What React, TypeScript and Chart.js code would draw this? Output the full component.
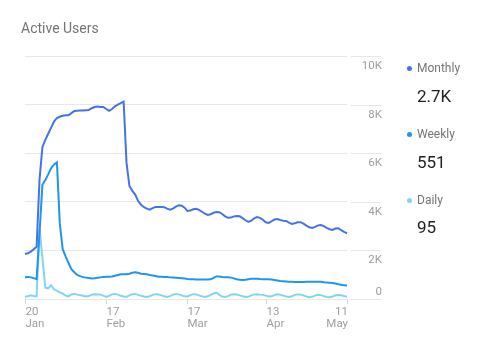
import React, { useEffect, useRef } from 'react';
import { Chart, registerables } from 'chart.js';

Chart.register(...registerables);

const MONTH_NAMES = ['Jan', 'Feb', 'Mar', 'Apr', 'May', 'Jun', 'Jul', 'Aug', 'Sep', 'Oct', 'Nov', 'Dec'];

const MONTHLY = [
  1850, 1880, 1950, 2050, 2150, 4900, 6250, 6550, 6800, 7050,
  7300, 7450, 7500, 7540, 7560, 7560, 7650, 7740, 7750, 7760,
  7760, 7770, 7780, 7850, 7900, 7920, 7900, 7900, 7820, 7740,
  7820, 7930, 8000, 8060, 8120, 5600, 4650, 4450, 4300, 4030,
  3880, 3780, 3720, 3680, 3740, 3790, 3790, 3790, 3780, 3720,
  3680, 3720, 3800, 3860, 3840, 3760,
  3620, 3640, 3690, 3710, 3670, 3590, 3510, 3460, 3490, 3550,
  3580, 3570, 3500, 3400, 3340, 3350, 3400, 3420, 3410, 3330,
  3240, 3170, 3220, 3320, 3375, 3340, 3260, 3160, 3130, 3200,
  3270, 3290, 3250, 3220, 3210, 3140, 3090, 3120, 3160, 3160,
  3100, 3020, 2950, 2920, 2970, 3030, 3045, 3000, 2930, 2870,
  2840, 2900, 2910, 2830, 2760, 2700,
];

const WEEKLY = [
  900, 910, 890, 860, 820, 2700, 4700, 4900, 5130, 5380,
  5540, 5620, 3100, 2050, 1750, 1480, 1230, 1100, 990, 940,
  900, 880, 860, 840, 850, 870, 890, 910, 920, 920,
  930, 960, 990, 1020, 1020, 1020, 1040, 1080, 1100, 1080,
  1040, 1030, 1020, 990, 970, 950, 920, 915, 910, 905,
  890, 880, 870, 860, 850, 840,
  820, 815, 810, 800, 800, 800, 800, 800, 810, 870,
  930, 930, 910, 900, 895, 880, 850, 810, 790, 780,
  790, 810, 830, 835, 830, 820, 815, 810, 810, 800,
  780, 760, 740, 730, 720, 712, 705, 700, 700, 700,
  700, 705, 710, 712, 712, 710, 705, 690, 680, 670,
  655, 635, 610, 590, 570, 551,
];

const DAILY = [
  90, 110, 150, 120, 110, 2900, 1700, 470, 440, 560,
  400, 330, 270, 220, 140, 110, 190, 210, 180, 160,
  130, 100, 120, 180, 200, 190, 180, 140, 90, 130,
  190, 210, 180, 130, 100, 90, 150, 200, 210, 170,
  130, 100, 80, 110, 170, 200, 190, 150, 110, 80,
  120, 180, 210, 190, 150, 110,
  100, 160, 200, 190, 150, 110, 80, 110, 170, 230,
  260, 170, 100, 80, 120, 180, 200, 190, 150, 110,
  80, 90, 150, 190, 200, 180, 170, 140, 100, 110,
  160, 190, 180, 140, 100, 80, 110, 170, 190, 180,
  150, 100, 70, 90, 140, 170, 160, 120, 80, 70,
  100, 150, 160, 150, 120, 95,
];

const CATEGORIES = MONTHLY.map((_, i) => {
  const d = new Date(2019, 0, 20 + i);
  return `${MONTH_NAMES[d.getMonth()]} ${d.getDate()}`;
});

const Y_TICKS = [0, 2000, 4000, 6000, 8000, 10000];
const Y_TICK_LABELS = ['0', '2K', '4K', '6K', '8K', '10K'];
const X_TICK_DATES = ['Jan 20', 'Feb 17', 'Mar 17', 'Apr 13', 'May 11'];
const X_TICK_LABELS = [['20', 'Jan'], ['17', 'Feb'], ['17', 'Mar'], ['13', 'Apr'], ['11', 'May']];

const SERIES_NAMES = ['Monthly', 'Weekly', 'Daily'];
const SERIES_TOTALS = ['2.7K', '551', '95'];
const COLORS = ['#4473e8', '#1f95f2', '#80d5f3'];

const FONT = 'Roboto, "Noto Sans", sans-serif';

const axisPlugin = {
  id: 'customAxes',
  afterDraw(chart: any) {
    const ctx = chart.ctx;
    const xs = chart.scales.x;
    const ys = chart.scales.y;
    const area = chart.chartArea;
    ctx.save();
    ctx.font = `11.5px ${FONT}`;
    ctx.fillStyle = '#9e9e9e';
    ctx.strokeStyle = '#e6e6e6';
    ctx.lineWidth = 1;
    Y_TICKS.forEach((v, k) => {
      const py = Math.round(ys.getPixelForValue(v)) + 0.5;
      ctx.beginPath();
      ctx.moveTo(area.right + 4, py);
      ctx.lineTo(area.right + 34, py);
      ctx.stroke();
      ctx.textAlign = 'right';
      ctx.textBaseline = 'alphabetic';
      ctx.fillText(Y_TICK_LABELS[k], area.right + 35, v === 0 ? py - 4.5 : py + 12);
    });
    ctx.strokeStyle = '#d6d6d6';
    X_TICK_DATES.forEach((date, k) => {
      const idx = CATEGORIES.indexOf(date);
      if (idx < 0) return;
      const px = Math.round(xs.getPixelForValue(idx)) + 0.5;
      ctx.beginPath();
      ctx.moveTo(px, area.bottom);
      ctx.lineTo(px, area.bottom + 5);
      ctx.stroke();
      const last = k === X_TICK_DATES.length - 1;
      ctx.textAlign = last ? 'right' : 'left';
      ctx.textBaseline = 'alphabetic';
      const tx = last ? px + 0.5 : px;
      ctx.fillText(X_TICK_LABELS[k][0], tx, area.bottom + 16);
      ctx.fillText(X_TICK_LABELS[k][1], tx, area.bottom + 28);
    });
    ctx.restore();
  },
};

export default function App() {
  const canvasRef = useRef<HTMLCanvasElement | null>(null);

  useEffect(() => {
    const canvas = canvasRef.current;
    if (!canvas) return;
    const chart = new Chart(canvas, {
      type: 'line',
      data: {
        labels: CATEGORIES,
        datasets: [MONTHLY, WEEKLY, DAILY].map((values, k) => ({
          label: SERIES_NAMES[k],
          data: values,
          borderColor: COLORS[k],
          backgroundColor: COLORS[k],
          borderWidth: 2,
          pointRadius: 0,
          pointHoverRadius: 0,
          tension: 0,
          fill: false,
        })),
      },
      options: {
        responsive: false,
        animation: false,
        devicePixelRatio: 1,
        layout: { padding: { left: 25, right: 98, top: 56, bottom: 20 } },
        plugins: {
          legend: { display: false },
          tooltip: { enabled: false },
          title: { display: false },
        },
        scales: {
          x: {
            type: 'category',
            offset: false,
            grid: { display: false, drawTicks: false },
            border: { display: false },
            ticks: { display: false },
            afterFit: (scale: any) => {
              scale.height = 30;
            },
          },
          y: {
            position: 'right',
            min: 0,
            max: 10000,
            afterBuildTicks: (scale: any) => {
              scale.ticks = Y_TICKS.map((v) => ({ value: v }));
            },
            grid: { color: '#e8e8e8', lineWidth: 1, drawTicks: false },
            border: { display: false },
            ticks: { display: false },
            afterFit: (scale: any) => {
              scale.width = 34;
            },
          },
        },
      },
      plugins: [axisPlugin],
    });
    return () => chart.destroy();
  }, []);

  const labelTops = [62, 128, 194];
  const valueTops = [88, 153.5, 219];

  return (
    <div
      style={{
        position: 'fixed',
        left: 0,
        top: 0,
        width: 479,
        height: 349,
        background: '#ffffff',
        fontFamily: FONT,
        overflow: 'hidden',
      }}
    >
      <canvas ref={canvasRef} width={479} height={349} style={{ position: 'absolute', left: 0, top: 0, width: 479, height: 349 }} />
      <div
        style={{
          position: 'absolute',
          left: 21,
          top: 20.5,
          fontSize: 14,
          lineHeight: '14px',
          color: '#757575',
          whiteSpace: 'nowrap',
        }}
      >
        Active Users
      </div>
      {SERIES_NAMES.map((name, k) => (
        <React.Fragment key={name}>
          <div
            style={{
              position: 'absolute',
              left: 406.5,
              top: labelTops[k] + 3.5,
              width: 5,
              height: 5,
              borderRadius: '50%',
              background: COLORS[k],
            }}
          />
          <div
            style={{
              position: 'absolute',
              left: 417,
              top: labelTops[k],
              fontSize: 12,
              lineHeight: '12px',
              color: '#757575',
              whiteSpace: 'nowrap',
            }}
          >
            {name}
          </div>
          <div
            style={{
              position: 'absolute',
              left: 417,
              top: valueTops[k],
              fontSize: 17,
              lineHeight: '17px',
              color: '#212121',
              whiteSpace: 'nowrap',
            }}
          >
            {SERIES_TOTALS[k]}
          </div>
        </React.Fragment>
      ))}
    </div>
  );
}
